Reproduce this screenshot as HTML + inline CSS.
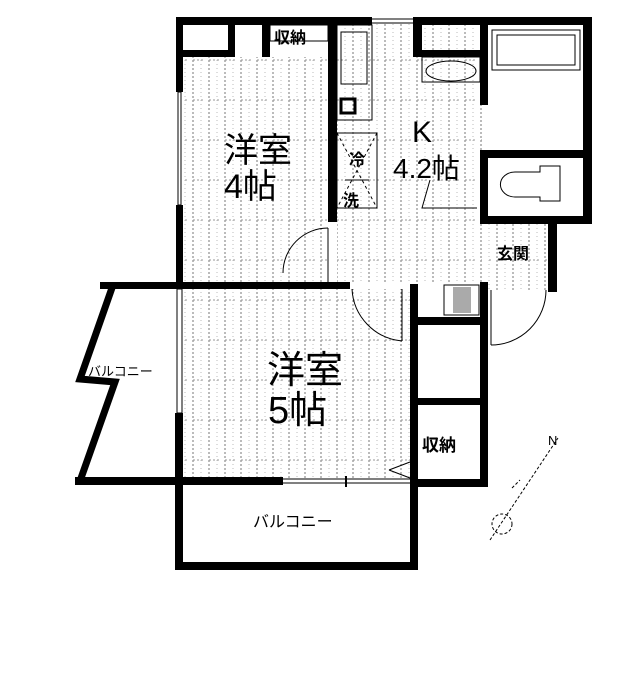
<!DOCTYPE html>
<html><head><meta charset="utf-8">
<style>
html,body{margin:0;padding:0;background:#fff;}
svg{display:block;}
text{font-family:"Liberation Sans","Noto Sans CJK JP",sans-serif;fill:#000;}
</style></head>
<body>
<svg width="619" height="687" viewBox="0 0 619 687" xmlns="http://www.w3.org/2000/svg">
<defs>
<pattern id="fl" width="16" height="40" patternUnits="userSpaceOnUse">
<rect width="16" height="40" fill="#fff"/>
<line x1="1" y1="0" x2="1" y2="40" stroke="#777" stroke-width="1" stroke-dasharray="2,2"/>
<line x1="9" y1="0" x2="9" y2="40" stroke="#bbb" stroke-width="1" stroke-dasharray="1,3"/>
<line x1="1" y1="20" x2="12" y2="20" stroke="#999" stroke-width="1" stroke-dasharray="2,2"/>
</pattern>
</defs>
<rect x="183" y="57" width="145" height="226" fill="url(#fl)"/>
<rect x="337" y="22" width="145" height="262" fill="url(#fl)"/>
<rect x="183" y="289" width="228" height="190" fill="url(#fl)"/>
<rect x="488" y="224" width="60" height="66" fill="url(#fl)"/>

<g fill="#000">
<rect x="176" y="17" width="196" height="8"/>
<rect x="413" y="17" width="179" height="8"/>
<rect x="176" y="17" width="7" height="75"/>
<rect x="176" y="205" width="7" height="80"/>
<rect x="183" y="50" width="52" height="7"/>
<rect x="228" y="17" width="7" height="40"/>
<rect x="262" y="17" width="8" height="40"/>
<rect x="328" y="17" width="9" height="205"/>
<rect x="413" y="17" width="9" height="40"/>
<rect x="413" y="50" width="75" height="7"/>
<rect x="480" y="17" width="8" height="88"/>
<rect x="480" y="150" width="8" height="74"/>
<rect x="480" y="150" width="112" height="8"/>
<rect x="480" y="216" width="112" height="8"/>
<rect x="583" y="17" width="9" height="207"/>
<rect x="548" y="216" width="9" height="76"/>
<rect x="100" y="282" width="250" height="7"/>
<rect x="410" y="284" width="8" height="202"/>
<rect x="480" y="282" width="8" height="205"/>
<rect x="410" y="317" width="78" height="8"/>
<rect x="410" y="398" width="78" height="7"/>
<rect x="410" y="479" width="78" height="8"/>
<rect x="175" y="413" width="8" height="157"/>
<rect x="175" y="562" width="243" height="8"/>
<rect x="410" y="480" width="8" height="90"/>
<rect x="75" y="477" width="208" height="8"/>
</g>
<polyline points="113,285 80,379 115,382 80,481" fill="none" stroke="#000" stroke-width="7" stroke-linejoin="miter"/>

<g fill="none" stroke="#000" stroke-width="1">
<rect x="178" y="92" width="3" height="113"/>
<rect x="177" y="289" width="5" height="124"/>
<line x1="372" y1="19" x2="413" y2="19"/>
<line x1="372" y1="23" x2="413" y2="23"/>
<line x1="283" y1="479" x2="410" y2="479"/>
<line x1="283" y1="483" x2="410" y2="483"/>
<line x1="346" y1="476" x2="346" y2="487" stroke-width="2"/>
<rect x="270" y="25" width="58" height="16"/>
<rect x="337" y="25" width="35" height="95"/>
<rect x="341" y="32" width="26" height="52"/>
<rect x="341" y="99" width="14" height="14" stroke-width="3"/>
<rect x="337" y="133" width="40" height="75"/>
<line x1="337" y1="133" x2="377" y2="208" stroke-dasharray="3,3"/>
<line x1="377" y1="133" x2="337" y2="208" stroke-dasharray="3,3"/>
<rect x="422" y="57" width="58" height="25"/>
<ellipse cx="451" cy="71" rx="25" ry="10"/>
<rect x="492" y="30" width="88" height="40"/>
<rect x="497" y="35" width="78" height="30"/>
<path d="M515,172 h25 v-6 h20 v35 h-20 v-4 h-25 a14,12 0 0 1 0,-25z"/>
<path d="M328,228 A45,45 0 0 0 283,273" />
<line x1="328" y1="228" x2="328" y2="283"/>
<path d="M352,289 A55,55 0 0 0 402,341"/>
<line x1="402" y1="289" x2="402" y2="341"/>
<path d="M546,290 A55,55 0 0 1 491,345"/>
<line x1="491" y1="290" x2="491" y2="345"/>
<line x1="389" y1="470" x2="410" y2="462"/>
<line x1="389" y1="470" x2="410" y2="478"/>
<path d="M430,180 l-8,28 h55"/>
<rect x="444" y="285" width="35" height="30"/>
</g>
<rect x="453" y="287" width="18" height="26" fill="#aaa"/>
<text x="349" y="165" font-size="16" font-weight="bold">冷</text>
<text x="343" y="206" font-size="16" font-weight="bold">洗</text>
<line x1="345" y1="180" x2="369" y2="180" stroke="#000"/>

<text x="224" y="162" font-size="34">洋室</text>
<text x="224" y="198" font-size="34">4帖</text>
<text x="412" y="142" font-size="30">K</text>
<text x="393" y="178" font-size="28">4.2帖</text>
<text x="267" y="383" font-size="38">洋室</text>
<text x="268" y="423" font-size="38">5帖</text>
<text x="274" y="43" font-size="16" font-weight="bold">収納</text>
<text x="497" y="259" font-size="16" font-weight="bold">玄関</text>
<text x="422" y="451" font-size="17" font-weight="bold">収納</text>
<text x="88" y="376" font-size="13">バルコニー</text>
<text x="253" y="527" font-size="16">バルコニー</text>

<g fill="none" stroke="#000" stroke-width="1" stroke-dasharray="3,2">
<circle cx="502" cy="524" r="10"/>
<line x1="490" y1="540" x2="558" y2="438"/>
<line x1="512" y1="488" x2="520" y2="480"/>
</g>
<text x="548" y="445" font-size="13">N</text>
</svg>
</body></html>
